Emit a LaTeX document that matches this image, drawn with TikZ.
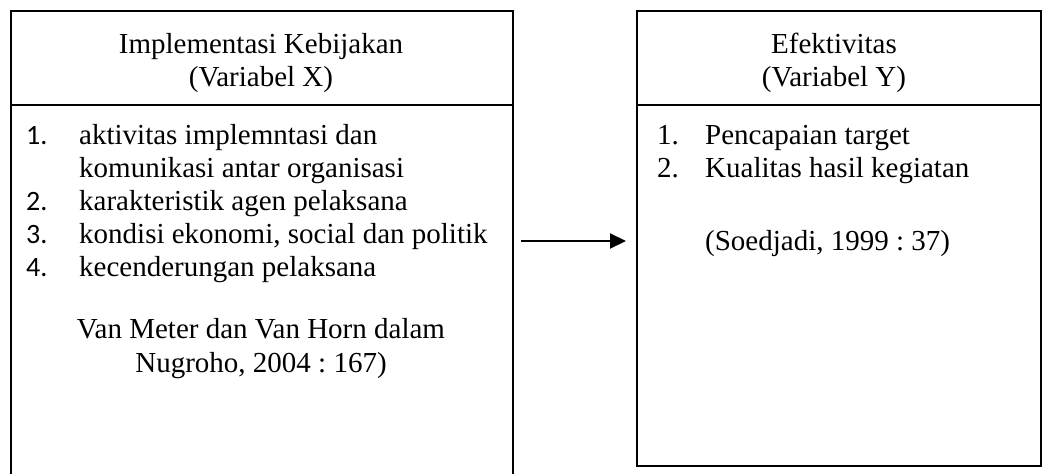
\documentclass[tikz,border=0pt]{standalone}
\usepackage{fontspec}
\setmainfont{Liberation Serif}
\newfontfamily\numfont{Carlito}
\usetikzlibrary{arrows.meta}
\frenchspacing
\begin{document}
\begin{tikzpicture}[x=1pt,y=-1pt,
  boxline/.style={line width=2pt, draw=black},
  txt/.style={inner sep=0pt, font=\frenchspacing\fontsize{29}{35}\selectfont},
  num/.style={inner sep=0pt, font=\numfont\fontsize{28}{35}\selectfont},
  arr/.style={line width=2pt, -{Triangle[length=16pt,width=15pt]}}]
\useasboundingbox (0,0) rectangle (1042,474);
% boxes
\node[boxline, rectangle, inner sep=0pt, minimum width=502pt, minimum height=490pt, anchor=north west] (lbox) at (10,10) {};
\node[boxline, rectangle, inner sep=0pt, minimum width=404pt, minimum height=455pt, anchor=north west] (rbox) at (636,10) {};
\draw[boxline] (10,105) -- (512,105);
\draw[boxline] (636,105) -- (1040,105);
% left header
\node[txt, anchor=base] (lh1) at (261,53) {Implementasi Kebijakan};
\node[txt, anchor=base] (lh2) at (261,86) {(Variabel X)};
% left list
\node[num, anchor=base west] (n1) at (26,144) {1.};
\node[txt, anchor=base west] (i1a) at (79,144) {aktivitas implemntasi dan};
\node[txt, anchor=base west] (i1b) at (79,177) {komunikasi antar organisasi};
\node[num, anchor=base west] (n2) at (26,210) {2.};
\node[txt, anchor=base west] (i2) at (79,210) {karakteristik agen pelaksana};
\node[num, anchor=base west] (n3) at (26,243) {3.};
\node[txt, anchor=base west] (i3) at (79,243) {kondisi ekonomi, social dan politik};
\node[num, anchor=base west] (n4) at (26,276) {4.};
\node[txt, anchor=base west] (i4) at (79,276) {kecenderungan pelaksana};
\node[txt, anchor=base] (src1a) at (261,338) {Van Meter dan Van Horn dalam};
\node[txt, anchor=base] (src1b) at (261,372) {Nugroho, 2004 : 167)};
% right header
\node[txt, anchor=base] (rh1) at (834,53) {Efektivitas};
\node[txt, anchor=base] (rh2) at (834,86) {(Variabel Y)};
% right list
\node[txt, anchor=base west] (m1) at (657,144) {1.};
\node[txt, anchor=base west] (j1) at (705,144) {Pencapaian target};
\node[txt, anchor=base west] (m2) at (657,177) {2.};
\node[txt, anchor=base west] (j2) at (705,177) {Kualitas hasil kegiatan};
\node[txt, anchor=base west] (src2) at (705,250) {(Soedjadi, 1999 : 37)};
% arrow
\coordinate (a1) at (521,241);
\coordinate (a2) at (626,241);
\draw[arr] (a1) -- (a2);
\end{tikzpicture}
\end{document}
